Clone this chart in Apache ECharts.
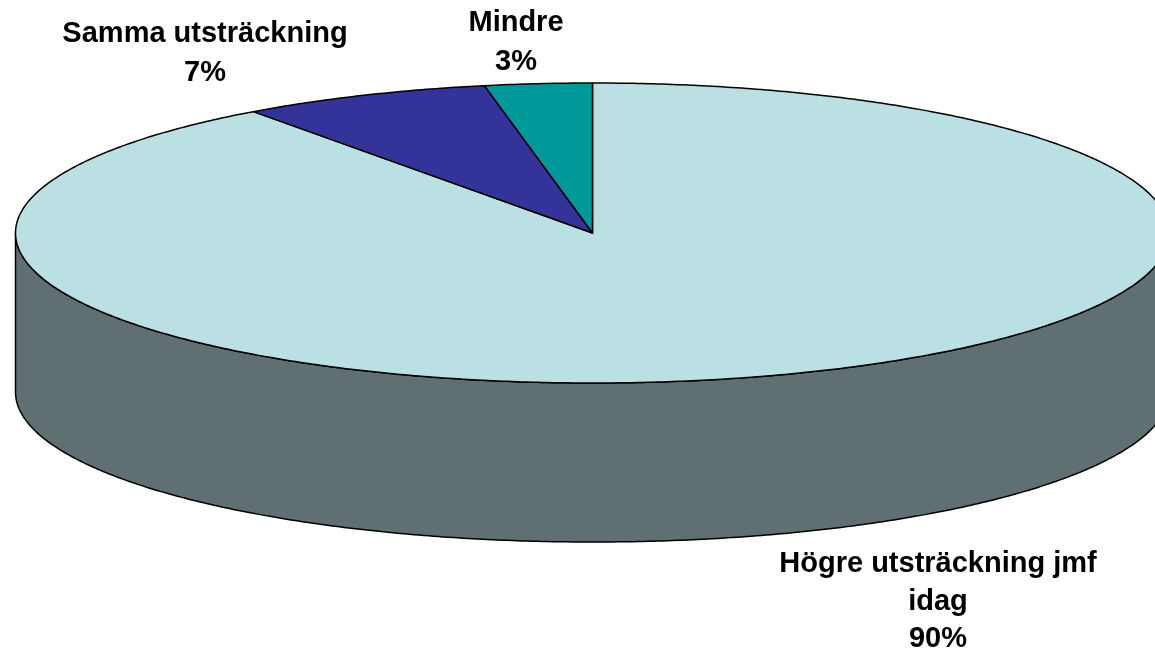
<!DOCTYPE html>
<html><head><meta charset="utf-8">
<style>html,body{margin:0;padding:0;background:#fff}#c{width:1155px;height:649px}</style>
<script src="https://cdn.jsdelivr.net/npm/echarts@6/dist/echarts.min.js"></script>
</head><body><div id="c"></div>
<script>
const categories = ['Högre utsträckning jmf\nidag', 'Samma utsträckning', 'Mindre'];
const shares = [90, 7, 3];
const topColors = ['#BAE0E3', '#333399', '#009999'];
const sideColors = ['#5F6F72', '#1F1F5C', '#005C5C'];
const labelCenters = [[938, 601.5, 37.5], [205, 53.5, 39.5], [516, 42.5, 39.5]];

const CX = 592.5, CY = 233, RX = 577, RY = 150, DEPTH = 159;
const total = shares.reduce((a, b) => a + b, 0);
const pt = (deg, dy) => {
  const r = deg * Math.PI / 180;
  return [CX + RX * Math.sin(r), CY + (dy || 0) - RY * Math.cos(r)];
};
const arc = (from, to, dy) => {
  const out = [], n = Math.max(2, Math.ceil(Math.abs(to - from) * 2));
  for (let i = 0; i <= n; i++) out.push(pt(from + (to - from) * i / n, dy));
  return out;
};
const stroke = { stroke: '#000', lineWidth: 1.5 };

function renderItem(params, api) {
  const i = params.dataIndex;
  let before = 0;
  for (let k = 0; k < i; k++) before += shares[k];
  const a0 = before / total * 360, a1 = (before + api.value(0)) / total * 360;
  const children = [];
  const w0 = Math.max(a0, 90), w1 = Math.min(a1, 270);
  if (w1 > w0) {
    children.push({ type: 'polygon', z2: 1,
      shape: { points: arc(w0, w1, 0).concat(arc(w1, w0, DEPTH)) },
      style: Object.assign({ fill: sideColors[i] }, stroke) });
  }
  children.push({ type: 'polygon', z2: 2,
    shape: { points: [[CX, CY]].concat(arc(a0, a1, 0)) },
    style: Object.assign({ fill: topColors[i], lineJoin: 'round' }, stroke) });
  const lc = labelCenters[i];
  children.push({ type: 'text', z2: 3, x: lc[0], y: lc[1],
    style: { text: categories[i] + '\n' + api.value(0) + '%', fill: '#000',
      font: 'bold 29px "Liberation Sans", Arial, sans-serif',
      lineHeight: lc[2], align: 'center', verticalAlign: 'middle' } });
  return { type: 'group', children };
}

const chart = echarts.init(document.getElementById('c'), null, { renderer: 'canvas' });
chart.setOption({
  animation: false,
  backgroundColor: '#fff',
  series: [{
    type: 'custom',
    coordinateSystem: 'none',
    silent: true,
    clip: false,
    renderItem,
    data: shares.map(v => [v])
  }]
});
</script></body></html>
